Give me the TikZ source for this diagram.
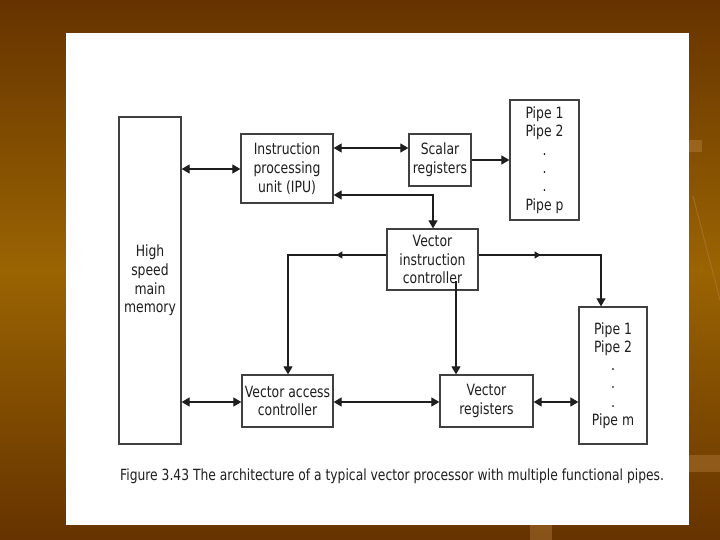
\documentclass[tikz,border=0pt]{standalone}
\usepackage{fontspec}
\setmainfont{DejaVu Sans}[FakeStretch=0.8]
\usetikzlibrary{arrows.meta,decorations.markings}
\definecolor{bgdark}{HTML}{663300}
\definecolor{bgmid}{HTML}{9A6402}
\definecolor{bglight}{HTML}{B07A3A}
\definecolor{ink}{HTML}{1E1E1E}
\begin{document}
\begin{tikzpicture}[x=1pt,y=-1pt,
  box/.style={draw=ink!85, line width=1.3pt, fill=white, inner sep=0pt, align=center,
    font=\fontsize{15.5}{18.8}\selectfont, text=ink},
  pipebox/.style={box, font=\fontsize{15.5}{18.3}\selectfont},
  link/.style={draw=ink, line width=1.2pt},
  tip/.style={link, -{Triangle[length=8pt,width=9pt]}},
  both/.style={link, {Triangle[length=8pt,width=9pt]}-{Triangle[length=8pt,width=9pt]}},
  midtip/.style={postaction={decorate}, decoration={markings,
    mark=at position #1 with {\arrow{Triangle[length=6pt,width=7pt]}}}}]
\useasboundingbox (0,0) rectangle (720,540);
% background
\shade[top color=bgdark, bottom color=bgdark, middle color=bgmid] (0,0) rectangle (720,540);
\fill[bglight, opacity=0.45] (689,455) rectangle (720,472);
\fill[bglight, opacity=0.45] (530,525) rectangle (552,540);
\draw[bglight, opacity=0.6, line width=1pt] (693,196) -- (720,300);
\fill[bglight, opacity=0.5] (689,140) rectangle (702,152);
% panel
\fill[white] (66,33) rectangle (689,525);
% boxes
\node[box, minimum width=62pt, minimum height=327pt] (mem) at (150,280.5) {High\\speed\\main\\memory};
\node[box, minimum width=92pt, minimum height=69pt] (ipu) at (287,168.5) {Instruction\\processing\\unit (IPU)};
\node[box, minimum width=62pt, minimum height=52pt] (scal) at (440,160) {Scalar\\registers};
\node[pipebox, minimum width=69pt, minimum height=120pt] (pipep) at (544.5,160) {Pipe 1\\Pipe 2\\.\\.\\.\\Pipe p};
\node[box, minimum width=91pt, minimum height=61pt] (vic) at (432.5,259.5) {Vector\\instruction\\controller};
\node[pipebox, minimum width=68pt, minimum height=137pt] (pipem) at (613,375.5) {Pipe 1\\Pipe 2\\.\\.\\.\\Pipe m};
\node[box, minimum width=91pt, minimum height=52pt] (vac) at (287.5,401) {Vector access\\controller};
\node[box, minimum width=93pt, minimum height=52pt] (vr) at (486.5,401) {Vector\\registers};
% caption
\node[anchor=base west, inner sep=0pt, text=ink, font=\fontsize{15.4}{18}\selectfont] (cap) at (120,480)
  {Figure 3.43 The architecture of a typical vector processor with multiple functional pipes.};
% helper coordinates
\coordinate (r0) at (0,169);
\coordinate (r1) at (0,148);
\coordinate (r2) at (0,160);
\coordinate (c2) at (433,195);
\coordinate (cl) at (288,255);
\coordinate (cr) at (601,255);
\coordinate (c3) at (456,281);
\coordinate (r3) at (0,402);
% connectors
\draw[both] (mem.east |- r0) -- (ipu.west |- r0);
\draw[both] (ipu.east |- r1) -- (scal.west |- r1);
\draw[tip] (scal.east |- r2) -- (pipep.west |- r2);
\draw[both] (ipu.east |- c2) -- (c2) -- (c2 |- vic.north);
\draw[tip, midtip=50pt] (cl -| vic.west) -- (cl) -- (cl |- vac.north);
\draw[tip, midtip=62pt] (cr -| vic.east) -- (cr) -- (cr |- pipem.north);
\draw[tip] (c3) -- (c3 |- vr.north);
\draw[both] (mem.east |- r3) -- (vac.west |- r3);
\draw[both] (vac.east |- r3) -- (vr.west |- r3);
\draw[both] (vr.east |- r3) -- (pipem.west |- r3);
\end{tikzpicture}
\end{document}
